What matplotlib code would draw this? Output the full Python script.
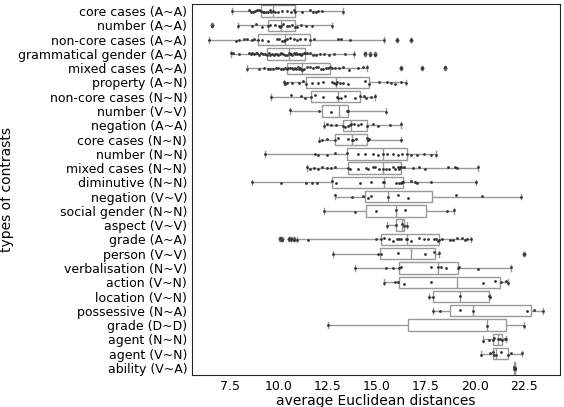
import pandas as pd
import seaborn as sns
from matplotlib import pyplot as plt

categories = [
    "core cases (A~A)", "number (A~A)", "non-core cases (A~A)",
    "grammatical gender (A~A)", "mixed cases (A~A)", "property (A~N)",
    "non-core cases (N~N)", "number (V~V)", "negation (A~A)",
    "core cases (N~N)", "number (N~N)", "mixed cases (N~N)",
    "diminutive (N~N)", "negation (V~V)", "social gender (N~N)",
    "aspect (V~V)", "grade (A~A)", "person (V~V)", "verbalisation (N~V)",
    "action (V~N)", "location (V~N)", "possessive (N~A)", "grade (D~D)",
    "agent (N~N)", "agent (V~N)", "ability (V~A)",
]

# average distances per pair, one list per contrast type
core_cases_aa = [7.62, 8.49, 8.60, 8.70, 8.80, 8.92, 9.02, 9.11, 9.18, 9.27, 9.36, 9.45, 9.55, 9.63,
                 9.72, 9.80, 9.95, 10.15, 10.40, 10.62, 10.76, 10.84, 11.20, 11.60, 11.75, 11.88,
                 12.02, 12.22, 13.29]
number_aa = [6.59, 7.95, 8.66, 8.83, 9.16, 9.45, 9.58, 9.80, 10.04, 10.09, 10.14, 10.20, 10.42,
             10.54, 10.67, 10.81, 10.93, 11.14, 11.38, 11.71, 12.69]
non_core_aa = [6.44, 7.82, 7.99, 8.24, 8.41, 8.63, 8.74, 8.94, 9.16, 9.45, 9.90, 10.04, 10.17, 10.25,
               10.34, 10.42, 10.59, 10.76, 10.93, 11.10, 11.35, 11.60, 11.82, 13.02, 13.19, 13.61,
               15.34, 16.00, 16.72]
gram_gender_aa = [7.57, 7.68, 7.99, 8.49, 8.58, 8.66, 8.74, 8.83, 8.92, 9.00, 9.10, 9.20, 9.30, 9.41,
                  9.50, 9.58, 9.66, 9.74, 9.82, 9.90, 9.98, 10.06, 10.14, 10.24, 10.33, 10.42, 10.51,
                  10.58, 10.64, 10.70, 10.76, 10.82, 10.88, 10.95, 11.02, 11.08, 11.14, 11.21, 11.28,
                  11.35, 11.45, 11.60, 11.75, 11.90, 12.10, 12.30, 12.55, 12.80, 13.40, 13.81, 14.37,
                  14.65, 14.91]
mixed_cases_aa = [8.37, 8.99, 9.25, 9.45, 9.58, 9.72, 9.85, 9.98, 10.10, 10.20, 10.32, 10.42, 10.50,
                  10.58, 10.66, 10.74, 10.82, 10.90, 10.96, 11.02, 11.08, 11.13, 11.18, 11.30, 11.45,
                  11.60, 11.75, 11.90, 12.02, 12.15, 12.28, 12.40, 12.50, 12.60, 12.72, 12.85, 13.08,
                  13.30, 13.60, 14.05, 14.30, 14.49, 16.22, 17.31, 18.48]
property_an = [10.25, 10.34, 10.42, 10.67, 11.04, 11.26, 11.40, 11.68, 12.02, 12.27, 12.69, 12.82,
               12.91, 12.96, 13.11, 13.28, 13.53, 14.40, 14.59, 15.12, 15.54, 15.71, 15.91, 16.25,
               16.50]
non_core_nn = [9.63, 10.64, 11.14, 11.35, 11.65, 11.85, 12.27, 12.96, 13.02, 13.19, 13.39, 13.90,
               14.15, 14.33, 14.45, 14.70, 14.92]
number_vv = [10.59, 12.05, 12.66, 13.49, 13.55, 15.45]
negation_aa = [12.32, 12.44, 12.66, 12.91, 13.28, 13.39, 13.53, 13.62, 13.70, 13.86, 14.03, 14.20,
               14.49, 14.79, 15.04, 15.68, 16.22]
core_cases_nn = [12.07, 12.19, 12.44, 12.89, 13.02, 13.53, 13.73, 13.80, 13.95, 14.49, 14.54, 14.60,
                 16.22]
number_nn = [9.30, 11.85, 12.02, 12.44, 12.86, 13.50, 14.03, 14.37, 14.79, 15.04, 15.29, 15.54,
             15.80, 16.05, 16.30, 16.55, 16.72, 17.06, 17.39, 17.73, 18.03]
mixed_cases_nn = [11.43, 11.60, 11.82, 12.02, 12.22, 12.44, 12.66, 12.86, 13.53, 13.61, 14.03, 14.45,
                  14.54, 14.79, 14.91, 15.12, 15.29, 15.45, 15.62, 15.80, 15.91, 16.05, 16.13, 16.18,
                  16.22, 16.38, 16.85, 17.14, 17.47, 18.60, 18.99, 19.07, 20.16]
diminutive_nn = [8.66, 10.12, 11.38, 11.68, 11.97, 12.72, 12.91, 14.12, 14.70, 15.29, 15.34, 15.96,
                 16.13, 16.25, 16.30, 16.35, 16.72, 16.92, 17.06, 17.76, 20.04]
negation_vv = [12.86, 13.75, 14.30, 14.54, 14.70, 15.58, 16.05, 16.58, 19.02, 20.33, 22.34]
social_gender_nn = [12.30, 13.90, 14.96, 15.96, 16.43, 18.55, 18.95]
aspect_vv = [15.53, 15.95, 16.28, 16.37, 16.55]
grade_aa = [10.09, 10.17, 10.51, 10.64, 10.76, 10.93, 11.51, 14.96, 15.21, 15.34, 15.63, 15.80,
            16.00, 16.13, 16.25, 16.47, 16.55, 16.72, 17.14, 17.39, 17.59, 17.89, 18.03, 18.10,
            18.15, 18.30, 18.73, 18.90, 19.07, 19.32, 19.49, 19.60, 19.79]
person_vv = [12.77, 15.07, 15.20, 16.05, 17.45, 17.90, 18.15, 22.48]
verbalisation_nv = [13.91, 15.46, 15.83, 16.13, 16.25, 17.76, 18.10, 18.26, 18.53, 19.15, 19.20,
                    20.16, 21.84]
action_vn = [15.38, 15.91, 16.05, 16.38, 17.76, 20.38, 21.00, 21.33, 21.56, 21.67]
location_vn = [17.63, 17.86, 19.23, 20.72, 20.78]
possessive_na = [17.86, 18.23, 19.24, 19.88, 22.63, 23.02, 23.47]
grade_dd = [12.49, 20.63, 22.51]
agent_nn = [20.41, 20.72, 20.92, 20.95, 21.17, 21.25, 21.39, 21.50, 21.59]
agent_vn = [20.28, 20.75, 20.92, 20.98, 21.05, 21.30, 21.67, 21.84, 22.39]
ability_va = [21.96, 21.99, 22.01, 22.02, 22.05]

values = [
    core_cases_aa, number_aa, non_core_aa, gram_gender_aa, mixed_cases_aa, property_an,
    non_core_nn, number_vv, negation_aa, core_cases_nn, number_nn, mixed_cases_nn,
    diminutive_nn, negation_vv, social_gender_nn, aspect_vv, grade_aa, person_vv,
    verbalisation_nv, action_vn, location_vn, possessive_na, grade_dd, agent_nn,
    agent_vn, ability_va,
]

rows = []
for cat, vals in zip(categories, values):
    for v in vals:
        rows.append((cat, v))
df = pd.DataFrame(rows, columns=["contrast", "distance"])

fig = plt.figure(figsize=(5.64, 4.07), dpi=100)
ax = fig.add_axes([192 / 564, 1 - 375 / 407, 368 / 564, 371 / 407])

# white boxes with grey outlines, every pair drawn on top as a small dot
sns.boxplot(data=df, x="distance", y="contrast", order=categories, color="white",
            linecolor="0.6", linewidth=1,
            flierprops={"marker": "d", "markersize": 2.5, "markerfacecolor": "0.4",
                        "markeredgecolor": "0.4"}, ax=ax)
sns.stripplot(data=df, x="distance", y="contrast", order=categories, color="0.2",
              size=2, jitter=0.1, ax=ax)

ax.set_xlabel("average Euclidean distances", fontsize=10, labelpad=1)
ax.set_ylabel("types of contrasts", fontsize=10, labelpad=3)
ax.tick_params(axis="both", labelsize=9, length=0, pad=3.5)
for s in ax.spines.values():
    s.set_color("0.15")

fig.savefig("out.png", dpi=100)
